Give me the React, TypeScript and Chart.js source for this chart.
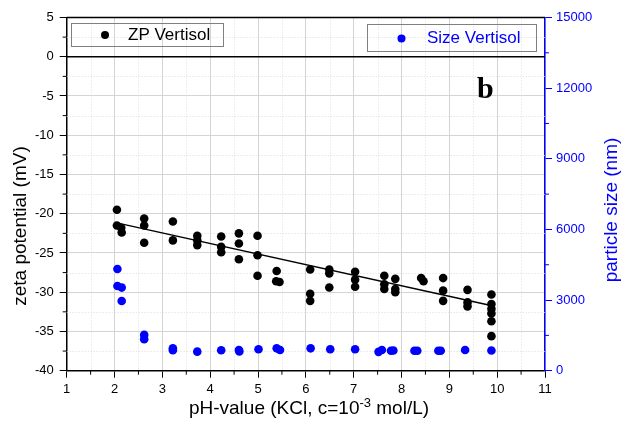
import React, { useEffect, useRef } from "react";
import { Chart, registerables } from "chart.js";

Chart.register(...registerables);

// ZP Vertisol (zeta potential, mV) vs pH
const zpPH = [2.05, 2.05, 2.14, 2.15, 2.62, 2.62, 2.62, 3.22, 3.22, 3.73, 3.73, 3.73, 4.23, 4.23, 4.23, 4.6, 4.6, 4.6, 4.99, 4.99, 4.99, 5.39, 5.38, 5.45, 6.09, 6.09, 6.09, 6.49, 6.49, 6.49, 7.03, 7.03, 7.03, 7.64, 7.64, 7.64, 7.87, 7.87, 7.87, 8.41, 8.46, 8.87, 8.87, 8.87, 9.38, 9.38, 9.38, 9.88, 9.88, 9.88, 9.88, 9.88, 9.88];
const zpValues = [-19.5, -21.5, -21.8, -22.4, -20.6, -21.5, -23.7, -21.0, -23.4, -22.8, -23.4, -24.0, -22.9, -24.2, -24.9, -22.5, -23.8, -25.8, -22.8, -25.3, -27.9, -27.3, -28.6, -28.7, -27.1, -30.2, -31.1, -27.1, -27.6, -29.4, -27.4, -28.4, -29.3, -27.9, -29.0, -29.6, -28.3, -29.6, -30.0, -28.2, -28.6, -28.2, -29.8, -31.1, -29.7, -31.3, -31.8, -30.3, -31.5, -32.1, -32.7, -33.7, -35.6];

// Size Vertisol (particle size, nm) vs pH
const sizePH = [2.06, 2.06, 2.15, 2.15, 2.62, 2.62, 3.22, 3.22, 3.73, 4.23, 4.6, 4.61, 5.01, 5.39, 5.46, 6.1, 6.51, 7.03, 7.52, 7.59, 7.78, 7.83, 8.27, 8.33, 8.77, 8.82, 9.33, 9.88];
const sizeValues = [4320, 3600, 3530, 2960, 1520, 1340, 950, 870, 810, 870, 880, 820, 910, 950, 880, 950, 910, 910, 800, 880, 850, 860, 850, 850, 850, 850, 880, 860];

// Linear fit line of ZP
const fitPH = [2.07, 9.87];
const fitZP = [-21.2, -31.7];

// zero reference line
const zeroPH = [1, 11];
const zeroZP = [0, 0];

// axes
const xMin = 1, xMax = 11, xStep = 1, xMinorStep = 0.5;
const yMin = -40, yMax = 5, yStep = 5, yMinorStep = 2.5;
const y2Min = 0, y2Max = 15000, y2Step = 3000, y2MinorStep = 1500;

const FONT = "'Liberation Sans', Arial, sans-serif";
const BLUE = "#0000ff";

const pairs = (xs: number[], ys: number[]) => xs.map((x, i) => ({ x, y: ys[i] }));
const plain = (v: any) => String(v);

export default function App() {
  const ref = useRef<HTMLCanvasElement | null>(null);

  useEffect(() => {
    document.body.style.margin = "0";
    const canvas = ref.current;
    if (!canvas) return;

    const decor = {
      id: "decor",
      beforeDatasetsDraw(chart: any) {
        const { ctx, chartArea: a, scales } = chart;
        const xs = scales.x, ys = scales.y;
        ctx.save();
        ctx.strokeStyle = "#dcdcdc";
        ctx.lineWidth = 1;
        ctx.setLineDash([1, 2]);
        for (let v = xMin + xMinorStep; v < xMax; v += xStep) {
          const px = Math.round(xs.getPixelForValue(v)) + 0.5;
          ctx.beginPath();
          ctx.moveTo(px, a.top);
          ctx.lineTo(px, a.bottom);
          ctx.stroke();
        }
        for (let v = yMin + yMinorStep; v < yMax; v += yStep) {
          const py = Math.round(ys.getPixelForValue(v)) + 0.5;
          ctx.beginPath();
          ctx.moveTo(a.left, py);
          ctx.lineTo(a.right, py);
          ctx.stroke();
        }
        ctx.restore();
      },
      afterDraw(chart: any) {
        const { ctx, chartArea: a, scales } = chart;
        const xs = scales.x, ys = scales.y, y2 = scales.y2;
        ctx.save();
        // top frame
        ctx.strokeStyle = "#000";
        ctx.lineWidth = 1.5;
        ctx.beginPath();
        ctx.moveTo(a.left, a.top);
        ctx.lineTo(a.right, a.top);
        ctx.stroke();
        // minor ticks
        ctx.lineWidth = 1;
        for (let v = xMin + xMinorStep; v < xMax; v += xStep) {
          const px = xs.getPixelForValue(v);
          ctx.beginPath();
          ctx.moveTo(px, a.bottom);
          ctx.lineTo(px, a.bottom + 4);
          ctx.stroke();
        }
        for (let v = yMin + yMinorStep; v < yMax; v += yStep) {
          const py = ys.getPixelForValue(v);
          ctx.beginPath();
          ctx.moveTo(a.left, py);
          ctx.lineTo(a.left - 4, py);
          ctx.stroke();
        }
        ctx.strokeStyle = BLUE;
        for (let v = y2Min + y2MinorStep; v < y2Max; v += y2Step) {
          const py = y2.getPixelForValue(v);
          ctx.beginPath();
          ctx.moveTo(a.right, py);
          ctx.lineTo(a.right + 4, py);
          ctx.stroke();
        }

        // axis titles
        ctx.textAlign = "center";
        ctx.textBaseline = "middle";
        ctx.font = `19px ${FONT}`;
        ctx.fillStyle = "#000";
        ctx.save();
        ctx.translate(21, 226);
        ctx.rotate(-Math.PI / 2);
        ctx.fillText("zeta potential (mV)", 0, 0);
        ctx.restore();

        ctx.fillStyle = BLUE;
        ctx.save();
        ctx.translate(612, 210);
        ctx.rotate(-Math.PI / 2);
        ctx.fillText("particle size (nm)", 0, 0);
        ctx.restore();

        // x title with superscript
        ctx.fillStyle = "#000";
        ctx.textBaseline = "alphabetic";
        ctx.textAlign = "left";
        const p1 = "pH-value (KCl, c=10";
        const sup = "-3";
        const p2 = " mol/L)";
        ctx.font = `19px ${FONT}`;
        const w1 = ctx.measureText(p1).width;
        const w3 = ctx.measureText(p2).width;
        ctx.font = `13px ${FONT}`;
        const w2 = ctx.measureText(sup).width;
        const total = w1 + w2 + w3;
        let tx = 309 - total / 2;
        const base = 414;
        ctx.font = `19px ${FONT}`;
        ctx.fillText(p1, tx, base);
        tx += w1;
        ctx.font = `13px ${FONT}`;
        ctx.fillText(sup, tx, base - 7);
        tx += w2;
        ctx.font = `19px ${FONT}`;
        ctx.fillText(p2, tx, base);

        // legends
        ctx.lineWidth = 1;
        ctx.strokeStyle = "#808080";
        ctx.strokeRect(71.5, 23.5, 152, 23);
        ctx.fillStyle = "#000";
        ctx.beginPath();
        ctx.arc(105, 35, 4, 0, Math.PI * 2);
        ctx.fill();
        ctx.font = `17px ${FONT}`;
        ctx.textBaseline = "middle";
        ctx.fillText("ZP Vertisol", 128, 35.5);

        ctx.strokeRect(367.5, 24.5, 169, 27);
        ctx.fillStyle = BLUE;
        ctx.beginPath();
        ctx.arc(401.5, 38.5, 4, 0, Math.PI * 2);
        ctx.fill();
        ctx.fillText("Size Vertisol", 427, 38.5);

        // panel label
        ctx.fillStyle = "#000";
        ctx.font = `bold 30px 'Liberation Serif', 'Times New Roman', serif`;
        ctx.textBaseline = "alphabetic";
        ctx.fillText("b", 477, 98);
        ctx.restore();
      },
    };

    const chart = new Chart(canvas, {
      type: "scatter",
      data: {
        datasets: [
          {
            type: "line",
            label: "zero",
            data: pairs(zeroPH, zeroZP),
            borderColor: "#000",
            borderWidth: 1.5,
            pointRadius: 0,
            yAxisID: "y",
          },
          {
            type: "line",
            label: "fit",
            data: pairs(fitPH, fitZP),
            borderColor: "#000",
            borderWidth: 1.5,
            pointRadius: 0,
            yAxisID: "y",
          },
          {
            label: "ZP Vertisol",
            data: pairs(zpPH, zpValues),
            backgroundColor: "#000",
            borderColor: "#000",
            pointRadius: 4.3,
            borderWidth: 0,
            yAxisID: "y",
          },
          {
            label: "Size Vertisol",
            data: pairs(sizePH, sizeValues),
            backgroundColor: BLUE,
            borderColor: BLUE,
            pointRadius: 4.3,
            borderWidth: 0,
            yAxisID: "y2",
          },
        ],
      },
      options: {
        animation: false,
        responsive: false,
        maintainAspectRatio: false,
        layout: { padding: { top: 17.5, left: 0, right: 0, bottom: 0 } },
        plugins: { legend: { display: false }, tooltip: { enabled: false } },
        scales: {
          x: {
            type: "linear",
            min: xMin,
            max: xMax,
            ticks: { stepSize: xStep, color: "#000", font: { family: FONT, size: 13 }, padding: 4, callback: plain },
            grid: { color: "#d4d4d4", tickColor: "#000", tickLength: 7, lineWidth: 1 },
            border: { color: "#000", width: 1.5 },
            afterFit: (s: any) => { s.height = 430 - 370.7; },
          },
          y: {
            type: "linear",
            position: "left",
            min: yMin,
            max: yMax,
            ticks: { stepSize: yStep, color: "#000", font: { family: FONT, size: 13 }, padding: 6, callback: plain },
            grid: { color: "#d4d4d4", tickColor: "#000", tickLength: 7, lineWidth: 1 },
            border: { color: "#000", width: 1.5 },
            afterFit: (s: any) => { s.width = 66.7; },
          },
          y2: {
            type: "linear",
            position: "right",
            min: y2Min,
            max: y2Max,
            ticks: { stepSize: y2Step, color: BLUE, font: { family: FONT, size: 13 }, padding: 4, callback: plain },
            grid: { drawOnChartArea: false, tickColor: BLUE, tickLength: 7, lineWidth: 1 },
            border: { color: BLUE, width: 1.5 },
            afterFit: (s: any) => { s.width = 80; },
          },
        },
      },
      plugins: [decor],
    } as any);

    return () => chart.destroy();
  }, []);

  return (
    <div style={{ position: "fixed", left: 0, top: 0, width: 625, height: 430, background: "#fff" }}>
      <canvas ref={ref} width={625} height={430} />
    </div>
  );
}
